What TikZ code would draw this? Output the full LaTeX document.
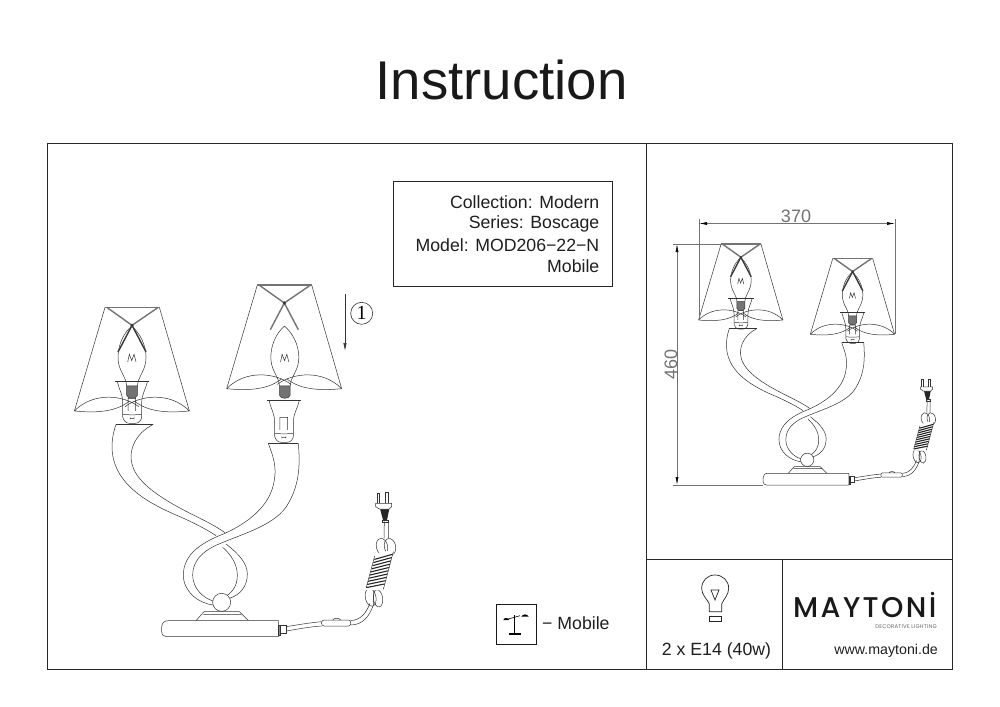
\documentclass[tikz,border=0pt]{standalone}
\usepackage{fontspec}
\usetikzlibrary{arrows.meta}
\setmainfont{Liberation Sans}
\newfontfamily\onefont{Liberation Serif}
\newfontfamily\logofont[LetterSpace=8.5]{Poppins Medium}
\newfontfamily\subfont[LetterSpace=4]{Poppins}
\definecolor{lineC}{gray}{0.2}
\definecolor{frameC}{gray}{0.45}
\definecolor{dimC}{gray}{0.45}
\tikzset{
  art/.style={draw=lineC,line width=0.5pt},
  frameline/.style={draw=black!85,line width=0.9pt},
  label/.style={inner sep=0pt,font=\fontsize{17.7}{20}\selectfont,text=black!88},
  dimtext/.style={inner sep=0pt,font=\fontsize{18}{20}\selectfont,text=dimC},
  dimline/.style={draw=dimC,line width=0.6pt},
  dimtip/.style={-{Latex[length=8pt,width=3.4pt]},draw=black!80,line width=0.6pt},
}
\newcommand\ShadePart{%
  \draw[art] (135,112) -- (43,423) (298,112) -- (388,423);
  \draw[art] (43,423) .. controls (100,365) and (190,375) .. (236,410)
             (43,423) .. controls (110,430) and (170,425) .. (208,393)
             (388,423) .. controls (331,365) and (241,375) .. (195,410)
             (388,423) .. controls (321,430) and (261,425) .. (223,393);
  \draw[frameC,line width=1.6pt] (135,112) -- (298,112);
  \draw[frameC,line width=1.4pt] (140,112) -- (216,166) -- (295,112)
    (216,166) -- (174,246) (216,166) -- (258,246);
  \fill[lineC] (216,166) circle (5);
}
\newcommand\BulbPart{%
  \draw[art] (215,168) .. controls (240,190) and (258,225) .. (258,262)
     .. controls (258,295) and (242,312) .. (235,332) -- (232,348)
     (215,168) .. controls (190,190) and (174,225) .. (174,262)
     .. controls (174,295) and (190,312) .. (197,332) -- (200,348);
  \draw[art] (203,276) -- (208,253) -- (215,272) -- (222,253) -- (228,276);
  \draw[art,fill=black!55] (200,348) -- (232,348) -- (232,376)
     .. controls (228,388) and (204,388) .. (200,376) -- cycle;
}
\newcommand\SocketPart{%
  \draw[art] (165,333) -- (268,333);
  \draw[art] (172,335) .. controls (178,362) and (188,372) .. (188,398) -- (188,440)
     .. controls (190,452) and (198,460) .. (208,460) -- (226,460)
     .. controls (236,460) and (244,452) .. (245,440) -- (245,398)
     .. controls (245,372) and (256,362) .. (262,335);
  \draw[art] (204,423) -- (204,385) -- (227,385) -- (227,423)
     (189,433) .. controls (200,435) and (233,435) .. (244,433)
     (210,445) -- (222,445) (210,442) -- (210,448) (222,442) -- (222,448);
}
\newcommand\BodyPart{%
  % arm that passes behind
  \draw[art] (-72,-137) -- (40,-137);
  \draw[art] (40,-137) .. controls (-15,-110) and (-45,-50) .. (-15,5)
     .. controls (15,60) and (100,105) .. (170,140) .. controls (200,155) and (230,170) .. (255,188);
  \draw[art] (-72,-137) .. controls (-95,-70) and (-85,-10) .. (-40,40)
     .. controls (0,85) and (60,115) .. (120,140) .. controls (160,158) and (200,178) .. (228,197);
  \draw[art] (258,222) .. controls (295,250) and (322,280) .. (322,312) .. controls (322,350) and (300,375) .. (268,385);
  \draw[art] (248,232) .. controls (275,255) and (292,285) .. (292,315) .. controls (292,345) and (280,365) .. (258,378);
  % arm that passes in front
  \draw[art] (385,-80) -- (475,-80);
  \draw[art] (385,-80) .. controls (400,-40) and (410,-10) .. (403,30) .. controls (392,110) and (320,160) .. (255,190)
     .. controls (190,215) and (130,250) .. (130,315) .. controls (130,365) and (175,400) .. (220,405);
  \draw[art] (475,-80) .. controls (480,-20) and (480,40) .. (445,100) .. controls (410,165) and (310,190) .. (230,225)
     .. controls (185,245) and (158,275) .. (158,315) .. controls (158,355) and (190,385) .. (220,393);
  % ball, pedestal, foot
  \draw[art,fill=white] (245,397) circle (27);
  \draw[art] (168,452) -- (192,425) -- (298,425) -- (325,452) (190,433) -- (303,433);
  \draw[art,fill=white] (415,452) -- (85,452) .. controls (72,452) and (65,460) .. (65,472)
     -- (65,485) .. controls (65,495) and (72,500) .. (80,500) -- (415,500) -- cycle;
}
\newcommand\CordPart{%
  \draw[art,fill=black!45] (415,465) rectangle (422,495);
  \draw[art] (422,465) rectangle (438,490);
  \draw[art] (438,470) .. controls (470,465) and (510,458) .. (545,455)
             (438,483) .. controls (470,478) and (510,470) .. (545,468);
  \draw[art,fill=white] (552,450) -- (625,450) .. controls (635,450) and (635,468) .. (625,468)
      -- (552,468) .. controls (542,468) and (542,450) .. (552,450) -- cycle;
  \draw[art] (578,450) .. controls (582,443) and (598,443) .. (602,450);
  \draw[art] (632,452) .. controls (665,450) and (680,425) .. (690,400)
             (632,465) .. controls (670,465) and (690,435) .. (700,405);
  % bottom loops
  \draw[art,rotate around={12:(692,382)}] (692,382) ellipse [x radius=16,y radius=27];
  \draw[art,rotate around={8:(714,385)}] (714,385) ellipse [x radius=14,y radius=26];
  \draw[art] (702,360) -- (700,405);
  % top loops
  \draw[art,rotate around={12:(726,230)}] (726,230) ellipse [x radius=17,y radius=25];
  \draw[art,rotate around={12:(750,230)}] (750,230) ellipse [x radius=17,y radius=25];
  % winding
  \fill[white] (702,252) -- (763,238) -- (730,360) -- (678,360) -- cycle;
  \foreach \i in {0,...,9}{
    \draw[black!85,line width=1.1pt,line cap=round]
      ({704-2.7*\i},{268+9.4*\i}) -- ({757-2.7*\i},{253+9.9*\i});
  }
  \draw[art] (704,258) -- (679,352) (760,245) -- (730,358);
  % lead and plug
  \draw[art] (732,205) -- (733,155) (745,205) -- (745,155);
  \fill[black!85] (720,116) -- (748,116) -- (741,150) -- (729,150) -- cycle;
  \draw[art] (728,150) rectangle (746,157);
  \draw[art,fill=white] (707,100) -- (755,100) -- (755,110) -- (748,117) -- (718,117) -- (707,110) -- cycle;
  \draw[art,fill=white] (711,100) -- (711,70) -- (718,70) -- (718,100);
  \draw[art,fill=white] (737,100) -- (737,68) -- (745,68) -- (745,100);
}
\begin{document}
\begin{tikzpicture}[x=1pt,y=-1pt]
\useasboundingbox (0,0) rectangle (1000,706);
\fill[white] (0,0) rectangle (1000,706);

\node[inner sep=0pt,font=\fontsize{54.6}{60}\selectfont,text=black!90] (title) at (501.5,80) {Instruction};

% frames
\draw[frameline] (47,143) rectangle (952,669);
\draw[frameline] (646,143) -- (646,669) (646,559) -- (952,559) (782,559) -- (782,669);

% information box
\draw[frameline] (393.7,181) rectangle (612,286);
\node[label,anchor=east] (coll) at (599.5,202) {Collection: Modern};
\node[label,anchor=east] (seri) at (599.5,224) {Series: Boscage};
\node[label,anchor=east] (modl) at (599.5,245.5) {Model: MOD206−22−N};
\node[label,anchor=east] (mobl) at (599.5,266.5) {Mobile};

% large view, left head
\begin{scope}[shift={(132.2,307.3)},scale=1/3,shift={(-216.5,-112)}]
  \SocketPart \BulbPart \ShadePart
  \draw[black!80,line width=1pt] (216,166) -- (174,246) (216,166) -- (258,246);
\end{scope}
% large view, right head taken apart
\begin{scope}[shift={(284.5,285)},scale=1/3,shift={(-216.5,-112)}]
  \ShadePart
\end{scope}
\begin{scope}[shift={(285,307.3)},scale=1/3,shift={(-216.5,-112)}]
  \BulbPart
\end{scope}
\begin{scope}[shift={(284,326.3)},scale=1/3,shift={(-216.5,-112)}]
  \SocketPart
\end{scope}
% large view, body
\begin{scope}[shift={(140,470)},scale=1/3]
  \BodyPart \CordPart
\end{scope}

% fit arrow
\coordinate (fitA) at (345,294);
\coordinate (fitB) at (345,351);
\draw[dimtip] (fitA) -- (fitB);
\node[draw=black!80,circle,line width=0.6pt,minimum size=22pt,inner sep=0pt,font=\onefont\fontsize{20}{20}\selectfont] (stepone) at (361.7,313.3) {1};

% mobile key
\node[draw=black!90,line width=0.9pt,minimum size=40pt,inner sep=0pt] (mobkey) at (516,624) {};
\begin{scope}[shift={(480,590)},scale=1/3]
  \draw[black,line width=1.1pt] (103,76) -- (103,132) (88,132) -- (122,132);
  \draw[black,line width=0.6pt] (84,87) -- (103,82) -- (120,77);
  \fill[black] (70,90) .. controls (72,82) and (84,82) .. (88,90) -- cycle;
  \fill[black] (124,80) .. controls (128,71) and (142,71) .. (146,80) -- cycle;
\end{scope}
\node[label,anchor=west] (mobtxt) at (542,623) {− Mobile};

% small view
\begin{scope}[shift={(741,244)},scale=0.733/3,shift={(-216.5,-112)}]
  \SocketPart \BulbPart \ShadePart
  \draw[black!80,line width=0.9pt] (216,166) -- (174,246) (216,166) -- (258,246);
\end{scope}
\begin{scope}[shift={(852.7,258.3)},scale=0.733/3,shift={(-216.5,-112)}]
  \SocketPart \BulbPart \ShadePart
  \draw[black!80,line width=0.9pt] (216,166) -- (174,246) (216,166) -- (258,246);
\end{scope}
\begin{scope}[shift={(763,473.3)},scale=0.737/3,shift={(-65,-452)}]
  \BodyPart \CordPart
\end{scope}

% dimensions
\coordinate (wL) at (699,223.5);
\coordinate (wR) at (895,223.5);
\coordinate (hT) at (677,244);
\coordinate (hB) at (677,485);
\draw[dimline] (699,219) -- (699,320) (895,219) -- (895,334)
  (673,244) -- (721,244) (673,485) -- (763,485);
\draw[dimline,{Latex[length=8pt,width=3pt,black]}-{Latex[length=8pt,width=3pt,black]}] (wL) -- (wR);
\draw[dimline,{Latex[length=8pt,width=3pt,black]}-{Latex[length=8pt,width=3pt,black]}] (hT) -- (hB);
\node[dimtext] (dimw) at (796,216) {370};
\node[dimtext,rotate=90] (dimh) at (671,364.5) {460};

% bulb symbol
\begin{scope}[shift={(650,560)},scale=1/3]
  \draw[black!85,line width=0.7pt] (178,155) -- (178,132) .. controls (170,115) and (155,105) .. (155,85)
     .. controls (155,62) and (172,45) .. (195,45) .. controls (218,45) and (236,62) .. (236,85)
     .. controls (236,105) and (222,115) .. (215,132) -- (215,155) -- cycle;
  \draw[black!85,line width=0.7pt] (178,170) rectangle (215,185);
  \draw[black!85,line width=0.7pt] (183,90) -- (207,90) -- (195,120) -- cycle;
\end{scope}
\node[label] (lamptxt) at (716.5,651) {2 x E14 (40w)};

% brand
\node[inner sep=0pt,anchor=base west,text=black!90,font=\logofont\fontsize{28.5}{30}\selectfont,text depth=0pt,text height=20pt] (brand) at (793,617) {MAYTONİ};
\node[inner sep=0pt,anchor=east,text=black!60,font=\subfont\fontsize{5.4}{7}\selectfont,text depth=0pt,text height=4pt] (tag) at (937,626.5) {DECORATIVE LIGHTING};
\node[inner sep=0pt,anchor=east,text=black!88,font=\fontsize{14.2}{16}\selectfont] (web) at (938,651) {www.maytoni.de};
\end{tikzpicture}
\end{document}
